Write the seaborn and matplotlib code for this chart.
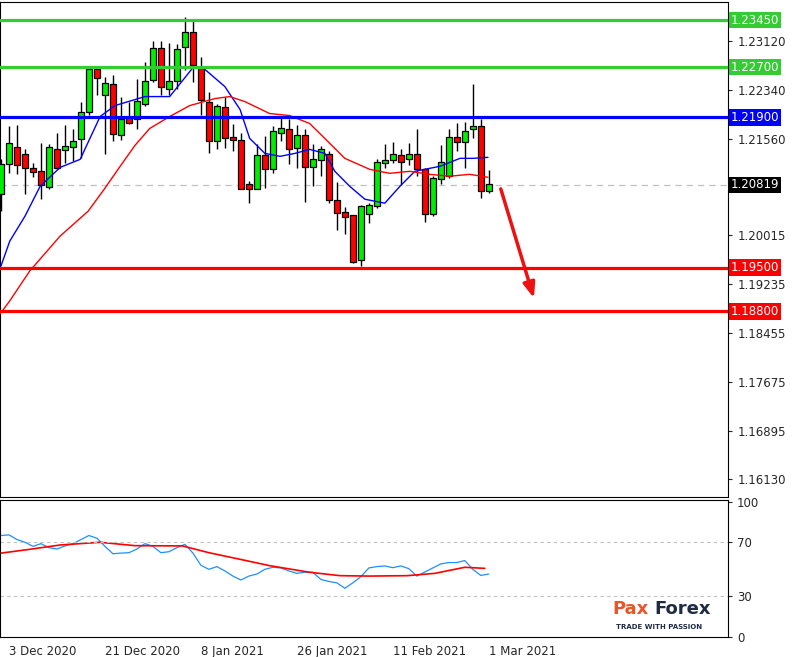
import numpy as np
import pandas as pd
import matplotlib
matplotlib.use("Agg")
import matplotlib.pyplot as plt
import seaborn as sns

sns.set_style("white")
plt.rcParams['font.family'] = ['DejaVu Sans']

# ---- data (EURUSD daily) ----
opens = [1.20671,1.21148,1.21419,1.21307,1.21085,1.21037,1.20783,1.21387,1.21371,1.21419,1.21546,1.21991,1.22675,1.22261,1.22436,
         1.21609,1.21880,1.21864,1.22118,1.22500,1.23009,1.22357,1.22484,1.23025,1.23263,1.22691,1.22150,1.21514,1.22071,1.21578,
         1.21530,1.20830,1.20751,1.21291,1.21069,1.21641,1.21705,1.21403,1.21609,1.21101,1.21212,1.21307,1.20576,1.20385,1.20337,
         1.19622,1.20353,1.20481,1.21164,1.21212,1.21291,1.21228,1.21307,1.21069,1.20353,1.20910,1.20958,1.21578,1.21498,1.21705,
         1.21768,1.20719]
highs = [1.21228,1.21753,1.21784,1.21387,1.21164,1.21482,1.21466,1.21641,1.21784,1.21705,1.22150,1.22707,1.22691,1.22548,1.22579,
         1.22230,1.22150,1.22516,1.22786,1.23120,1.23120,1.23088,1.23072,1.23501,1.23454,1.22866,1.22309,1.22118,1.22230,1.21800,
         1.21641,1.20878,1.21466,1.21594,1.21753,1.21880,1.21864,1.21784,1.21705,1.21466,1.21435,1.21355,1.20862,1.20465,1.20337,
         1.20496,1.20528,1.21228,1.21466,1.21498,1.21387,1.21482,1.21705,1.21085,1.20958,1.21450,1.21705,1.21816,1.21832,1.22436,
         1.21864,1.21053]
lows = [1.20401,1.21005,1.20989,1.20671,1.20942,1.20592,1.20751,1.21069,1.21164,1.21196,1.21244,1.21943,1.22261,1.21307,1.21514,
        1.21530,1.21800,1.21705,1.22086,1.22468,1.22261,1.22261,1.22357,1.22659,1.22468,1.21943,1.21323,1.21387,1.21403,1.21355,
        1.20751,1.20528,1.20751,1.20767,1.21005,1.21514,1.21148,1.21085,1.20544,1.20799,1.20958,1.20528,1.20099,1.20035,1.19574,
        1.19527,1.20210,1.20449,1.21085,1.21164,1.20814,1.21132,1.20958,1.20226,1.20321,1.20830,1.20926,1.21355,1.21085,1.21562,
        1.20608,1.20687]
closes = [1.21148,1.21482,1.21132,1.21085,1.21021,1.20814,1.21419,1.21085,1.21435,1.21514,1.21991,1.22675,1.22532,1.22452,1.21625,
          1.21864,1.21816,1.22166,1.22484,1.23009,1.22389,1.22484,1.22993,1.23263,1.22738,1.22182,1.21514,1.22086,1.21562,1.21530,
          1.20751,1.20751,1.21291,1.21069,1.21673,1.21721,1.21387,1.21609,1.21101,1.21228,1.21387,1.20576,1.20369,1.20306,1.19590,
          1.20481,1.20496,1.21180,1.21212,1.21307,1.21180,1.21307,1.21069,1.20353,1.20926,1.21180,1.21578,1.21498,1.21673,1.21753,
          1.20719,1.20830]

ma_fast_idx = [0,1.1,3,4.9,7.4,9.9,12.4,14.25,18,21.1,24,25.25,28,29.9,31.1,33,34.9,36.75,38.6,40.5,41.75,43.6,45.5,48,49.9,51.75,54.9,57.4,59,60.9]
ma_fast = [1.19527,1.19924,1.20321,1.20799,1.21100,1.21228,1.21912,1.22086,1.22230,1.22230,1.22691,1.22691,1.22389,1.22023,1.21562,1.21323,1.21276,
           1.21323,1.21387,1.21323,1.21037,1.20799,1.20592,1.20528,1.20799,1.21037,1.21117,1.21244,1.21244,1.21260]
ma_slow_idx = [-0.1,1.1,3.6,7.4,10.9,12.9,14.9,16.75,18.6,21.1,23.6,26.75,28.6,30.5,33.6,36.1,38.6,40.5,43,46.1,48.6,51.1,53.6,56.1,58.6,60.9]
ma_slow = [1.18763,1.18970,1.19447,1.20004,1.20401,1.20750,1.21117,1.21450,1.21721,1.21912,1.22086,1.22198,1.22230,1.22150,1.21959,1.21927,
           1.21800,1.21562,1.21244,1.21069,1.21005,1.21037,1.20989,1.20958,1.20989,1.20942]

rsi = [75,75.5,72,70,67,69,66,65,67.3,69,72,75,73,67,61.5,62,62.3,65,69,67,62.3,63,66,68.5,62,53,50,52,48.8,45,42.1,45,46.5,50,
       51.5,51,48.8,47,47.8,47.8,42.5,41,40,36,40,44.5,51,52,52.5,51.2,52.5,50.5,45,48,51,54,55,55,56.5,50,45.5,46.5]
rsi_ma_idx = [-0.1,3.6,7.4,12.4,16.75,22.7,26,29.9,33.6,38.6,42.4,46.1,50.8,54.25,58,60.5]
rsi_ma = [61.9,64.8,68,70,67.5,67.3,62.3,57.4,52.7,47.8,45.3,45,45.3,47,51.5,50.7]

levels = [1.2345, 1.2270, 1.2190, 1.1950, 1.1880]
level_colors = ["#33cc33", "#33cc33", "#0000ff", "#ff0000", "#ff0000"]
level_labels = ["1.23450", "1.22700", "1.21900", "1.19500", "1.18800"]
current_price = 1.20819
price_ticks = [1.23120, 1.22340, 1.21560, 1.20015, 1.19235, 1.18455, 1.17675, 1.16895, 1.16130]
date_idx = [1, 13, 25, 37, 49, 61]
date_labels = ["3 Dec 2020", "21 Dec 2020", "8 Jan 2021", "26 Jan 2021", "11 Feb 2021", "1 Mar 2021"]
rsi_ticks = [100, 70, 30, 0]

# ---- figure ----
fig = plt.figure(figsize=(7.92, 6.57), dpi=100)
ax = fig.add_axes([0.0, 0.2435, 0.919, 0.7535])
ax2 = fig.add_axes([0.0, 0.0304, 0.919, 0.2086])
xlim = (-0.125, 90.9)

n = len(opens)
idx = np.arange(n)
for i in range(n):
    o, h, l, c = opens[i], highs[i], lows[i], closes[i]
    col = "#00ee00" if c >= o else "#ff0000"
    ax.vlines(i, l, h, color="black", lw=1.0, zorder=3)
    ax.bar(i, abs(c - o) if abs(c - o) > 0.00003 else 0.00003, bottom=min(o, c), width=0.72,
           color=col, edgecolor="black", linewidth=0.9, zorder=4)

sns.lineplot(x=ma_fast_idx, y=ma_fast, ax=ax, color="#0000ff", lw=1.0, zorder=5)
sns.lineplot(x=ma_slow_idx, y=ma_slow, ax=ax, color="#ff0000", lw=1.0, zorder=5)

ax.axhline(current_price, color="#c0c0c0", lw=0.9, ls=(0, (5, 4)), zorder=1)
for lv, lc in zip(levels, level_colors):
    ax.axhline(lv, color=lc, lw=2.3, zorder=6)

ax.annotate("", xy=(66.75, 1.18970), xytext=(62.4, 1.20799),
            arrowprops=dict(arrowstyle="-|>,head_length=0.9,head_width=0.35", color="#ee1111", lw=2.5))

ax.set_xlim(*xlim)
ax.set_ylim(1.15838, 1.2374)
ax.yaxis.tick_right()
ax.set_yticks(price_ticks)
ax.set_yticklabels([f"{t:.5f}" for t in price_ticks], fontsize=8.5)
ax.tick_params(axis="y", length=3, direction="out", pad=4)
ax.set_xticks([])
for s in ax.spines.values():
    s.set_color("black"); s.set_linewidth(0.8)

tr = ax.get_yaxis_transform()
for lv, lc, lb in zip(levels, level_colors, level_labels):
    ax.text(1.004, lv, lb, transform=tr, fontsize=8.5, color="white", va="center", ha="left",
            bbox=dict(boxstyle="square,pad=0.15", fc=lc, ec="none"), clip_on=False, zorder=10)
ax.text(1.004, current_price, f"{current_price:.5f}", transform=tr, fontsize=8.5, color="white",
        va="center", ha="left", bbox=dict(boxstyle="square,pad=0.15", fc="black", ec="none"), clip_on=False)

# RSI
sns.lineplot(x=idx, y=rsi, ax=ax2, color="#1e90ff", lw=0.9)
sns.lineplot(x=rsi_ma_idx, y=rsi_ma, ax=ax2, color="#ff0000", lw=1.2)
for g in (70, 30):
    ax2.axhline(g, color="#c0c0c0", lw=0.8, ls=(0, (3, 3)))
ax2.set_xlim(*xlim)
ax2.set_ylim(-0.1, 101.3)
ax2.yaxis.tick_right()
ax2.set_yticks(rsi_ticks)
ax2.set_yticklabels([str(t) for t in rsi_ticks], fontsize=8.5)
ax2.tick_params(axis="y", length=3, direction="out")
ax2.set_xticks(date_idx)
ax2.set_xticklabels(date_labels, fontsize=8.5, ha="left")
ax2.tick_params(axis="x", length=4, direction="out", pad=2)
for s in ax2.spines.values():
    s.set_color("black"); s.set_linewidth(0.8)

# watermark
fig.text(0.773, 0.06, "Pax", fontsize=13, color="#e8562a", weight="bold", ha="left", va="bottom")
fig.text(0.826, 0.06, "Forex", fontsize=13, color="#1f2a44", weight="bold", ha="left", va="bottom")
fig.text(0.778, 0.042, "TRADE WITH PASSION", fontsize=5, color="#1f2a44", weight="bold", ha="left")

fig.savefig("out.png", dpi=100)
